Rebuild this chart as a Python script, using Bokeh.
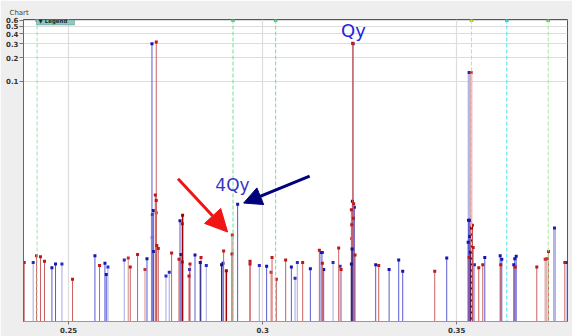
from bokeh.plotting import figure
from bokeh.models import (Range1d, FixedTicker, NumeralTickFormatter, CustomJSTickFormatter,
                          Span, Arrow, NormalHead, Label, BoxAnnotation)
from bokeh.embed import file_html
from bokeh.resources import INLINE

# ---- spectral lines: tune value and amplitude ----
blue_x = [0.24572, 0.24665, 0.25680, 0.25938, 0.25972, 0.27021, 0.27149, 0.27183, 0.27191,
          0.27871, 0.27897, 0.28119, 0.28258, 0.28979, 0.29356, 0.30103, 0.30740, 0.31229,
          0.31505, 0.31572, 0.32330, 0.32312, 0.32363, 0.32912, 0.33258, 0.33505, 0.33608,
          0.34742, 0.35302, 0.35335, 0.35335, 0.35294, 0.35722, 0.36119, 0.36160, 0.36469,
          0.36495, 0.36531, 0.37845]
blue_y = [4.2e-4, 4.7e-4, 6.0e-4, 4.8e-4, 3.45e-4, 5.5e-4, 0.30, 2.26e-3, 6.8e-4,
          1.67e-3, 6.2e-4, 4.0e-4, 6.1e-4, 4.8e-4, 2.72e-3, 4.4e-4, 4.3e-4, 4.1e-4,
          6.6e-4, 4.0e-4, 0.30, 2.97e-3, 2.49e-3, 4.6e-4, 4.0e-4, 5.3e-4, 3.8e-4,
          5.6e-4, 1.69e-3, 1.69e-3, 1.05e-3, 8.9e-4, 5.7e-4, 6.0e-4, 5.4e-4, 4.6e-4,
          5.5e-4, 5.9e-4, 4.9e-4]

blue_faint_x = [0.24090, 0.24830, 0.26015, 0.26436, 0.27157, 0.27510, 0.27595, 0.28549,
                0.29915, 0.30835, 0.30894, 0.31539, 0.31814, 0.31995, 0.35456]
blue_faint_y = [4.9e-4, 4.7e-4, 4.3e-4, 5.3e-4, 1.02e-3, 3.3e-4, 3.7e-4, 4.5e-4,
                4.5e-4, 3.1e-4, 4.9e-4, 6.6e-4, 4.9e-4, 4.4e-4, 4.6e-4]

blue_dark_x = [0.28394, 0.28943, 0.32304, 0.32286, 0.35353]
blue_dark_y = [4.9e-4, 4.6e-4, 7.3e-4, 4.7e-4, 6.65e-4]

blue_wide_x = [0.27160, 0.35320, 0.37518]
blue_wide_y = [2.0e-3, 0.129, 1.35e-3]

red_x = [0.23858, 0.24175, 0.24278, 0.24381, 0.25103, 0.25799, 0.26590, 0.26778, 0.27260,
         0.27235, 0.27260, 0.27273, 0.27312, 0.27655, 0.27845, 0.27930, 0.27930, 0.28103,
         0.28129, 0.28412, 0.28995, 0.29211, 0.29675, 0.29675, 0.30242, 0.30353, 0.30593,
         0.31031, 0.31461, 0.31539, 0.31959, 0.32021, 0.32320, 0.32286, 0.32345, 0.32338,
         0.32294, 0.32381, 0.32990, 0.34433, 0.35405, 0.35423, 0.35320, 0.35567, 0.35670,
         0.36134, 0.36505, 0.37062, 0.37363, 0.37784]
red_y = [4.9e-4, 6.0e-4, 5.8e-4, 5.1e-4, 3.0e-4, 4.5e-4, 4.3e-4, 6.2e-4, 0.317,
         3.56e-3, 3.03e-3, 8.1e-4, 7.4e-4, 6.5e-4, 5.4e-4, 1.53e-3, 5.0e-4, 3.3e-4,
         4.7e-4, 5.7e-4, 6.9e-4, 6.3e-4, 5.1e-4, 4.7e-4, 5.7e-4, 3.0e-4, 5.3e-4,
         4.9e-4, 7.05e-4, 4.8e-4, 7.5e-4, 4.0e-4, 0.305, 2.31e-3, 2.75e-3, 1.80e-3,
         1.49e-3, 6.1e-4, 4.5e-4, 3.8e-4, 1.46e-3, 7.6e-4, 5.7e-4, 4.2e-4, 4.6e-4,
         4.6e-4, 4.3e-4, 4.3e-4, 6.8e-4, 4.9e-4]

red_faint_x = [0.26539, 0.26969, 0.27260, 0.30216, 0.32294, 0.37278, 0.37320]
red_faint_y = [5.6e-4, 4.0e-4, 2.11e-3, 3.7e-4, 9.9e-4, 5.4e-4, 5.5e-4]

red_dark_x = [0.27938, 0.29065, 0.35379]
red_dark_y = [1.97e-3, 3.85e-4, 1.35e-3]

red_wide_x = [0.29219, 0.35371]
red_wide_y = [1.10e-3, 0.129]

# resonance markers (vertical dashed lines)
marker_x = [0.24190, 0.29237, 0.30335, 0.35379, 0.36289, 0.37356]

x_ticks = [0.25, 0.30, 0.35]
y_ticks = [0.1, 0.2, 0.3, 0.4, 0.5, 0.6]

# ---- figure ----
FONT = "DejaVu Sans"
p = figure(width=572, height=336, output_backend="svg", toolbar_location=None,
           y_axis_type="log", title="Chart",
           x_range=Range1d(0.23840, 0.37853), y_range=Range1d(8.7e-5, 0.612),
           min_border_left=23, min_border_right=5, min_border_top=19, min_border_bottom=15)
p.background_fill_color = "white"
p.border_fill_color = "#eeeeee"
p.outline_line_color = "#555555"
p.outline_line_width = 1

p.title.align = "left"
p.title.offset = -14
p.title.standoff = 2
p.title.vertical_align = "top"
p.title.text_font = FONT
p.title.text_font_size = "7px"
p.title.text_font_style = "normal"
p.title.text_color = "#444444"

for ax in (p.xaxis, p.yaxis):
    ax.minor_tick_line_color = None
    ax.major_label_text_font = FONT
    ax.major_label_text_font_size = "7px"
    ax.major_label_text_font_style = "bold"
    ax.major_label_text_color = "#333333"
    ax.major_tick_line_color = "#777777"
    ax.major_tick_in = 0

p.xaxis.ticker = FixedTicker(ticks=x_ticks)
p.xaxis.formatter = CustomJSTickFormatter(code="return String(Number(tick.toFixed(4)))")
p.xaxis.axis_line_color = "#999999"
p.xaxis.major_tick_out = 3
p.xaxis.major_label_standoff = 2

p.yaxis.ticker = FixedTicker(ticks=y_ticks)
p.yaxis.formatter = NumeralTickFormatter(format="0.0")
p.yaxis.axis_line_color = "#666666"
p.yaxis.major_tick_out = 4
p.yaxis.major_label_standoff = 1

p.xgrid.ticker = FixedTicker(ticks=x_ticks)
p.ygrid.ticker = FixedTicker(ticks=y_ticks)
p.grid.grid_line_color = "#dddddd"
p.grid.grid_line_width = 1.2

# resonance marker lines
marker_colors = ["#9be3b4", "#6fdc9c", "#6fdc9c", "#cfe07a", "#4fe0e6", "#a6e89a"]
marker_tops = ["#60c880", "#38cc70", "#38cc70", "#a8c820", "#20c8d0", "#50c030"]
for mx, mc in zip(marker_x, marker_colors):
    p.add_layout(Span(location=mx, dimension="height", line_color=mc,
                      line_dash="4 2", line_width=1))
p.scatter(marker_x, [0.6] * len(marker_x), marker="square", size=3.5,
          color=marker_tops, line_color=None)

# ---- stems ----
FLOOR = 1e-5  # below the visible range; stems are clipped at the frame


def stems(xs, ys, line, width, dot, alpha=1.0):
    p.segment(x0=xs, y0=[FLOOR] * len(xs), x1=xs, y1=ys,
              line_color=line, line_width=width, line_alpha=alpha)
    p.scatter(xs, ys, marker="square", size=3, color=dot, line_color=None)


stems(blue_faint_x, blue_faint_y, "#b4b4e6", 1.2, "#2a2ac0")
stems(blue_wide_x, blue_wide_y, "#a8a8e0", 3, "#1e1ec0", 0.85)
stems(red_wide_x, red_wide_y, "#e0a8a8", 2.5, "#c82828", 0.85)
stems(red_faint_x, red_faint_y, "#dda0a0", 1.2, "#c83030")
stems(blue_x, blue_y, "#5a5ad4", 1, "#1414b4")
stems(red_x, red_y, "#cc6060", 1, "#c01818")
stems(blue_dark_x, blue_dark_y, "#2a2a8c", 1.2, "#141480")
stems(red_dark_x, red_dark_y, "#a00000", 1.5, "#a00000")

# ---- annotations ----
p.add_layout(Label(x=0.32021, y=0.437, text="Qy", text_font=FONT, text_font_size="18px",
                   text_color="#2424e0", text_baseline="alphabetic"))
p.add_layout(Label(x=0.28781, y=0.00471, text="4Qy", text_font=FONT, text_font_size="17px",
                   text_color="#3434c8", text_baseline="alphabetic"))

p.add_layout(Arrow(x_start=0.27820, y_start=0.00574, x_end=0.29098, y_end=0.00120,
                   line_color="#f01414", line_width=3,
                   end=NormalHead(size=22, fill_color="#f01414", line_color="#f01414")))
p.add_layout(Arrow(x_start=0.31211, y_start=0.00619, x_end=0.29510, y_end=0.00281,
                   line_color="#00007a", line_width=3,
                   end=NormalHead(size=18, fill_color="#00007a", line_color="#00007a")))

# legend tab in the top-left corner of the plot
p.add_layout(BoxAnnotation(left=13, right=51, top=301.7, bottom=296.5,
                           left_units="screen", right_units="screen",
                           top_units="screen", bottom_units="screen",
                           fill_color="#8ccac2", fill_alpha=1,
                           line_color="#2f5f5c", line_width=1))
p.add_layout(Label(x=15, y=297.3, x_units="screen", y_units="screen", text="\u25bc Legend",
                   text_font=FONT, text_font_size="5.5px", text_font_style="bold",
                   text_color="#1a2a2a"))

open("out.html", "w").write(file_html(p, INLINE))
